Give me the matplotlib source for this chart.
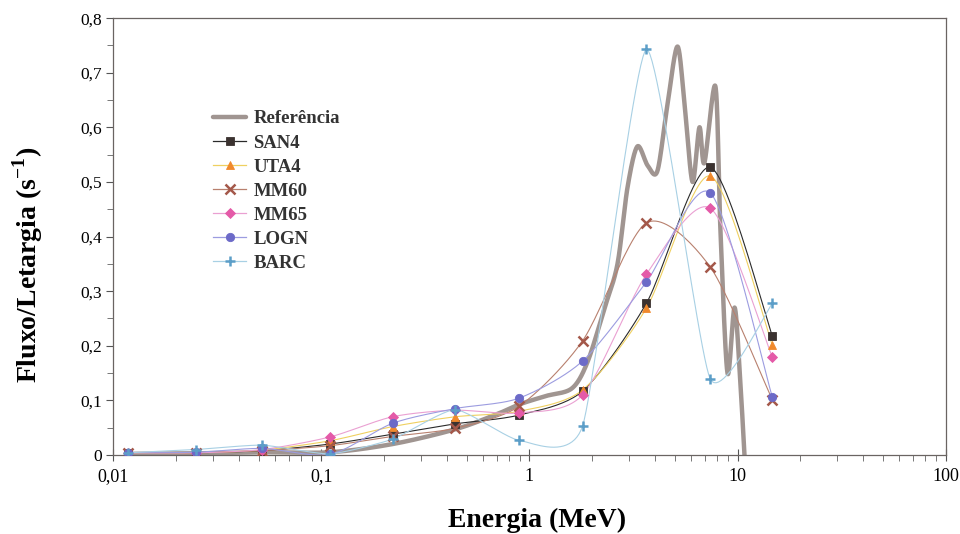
import numpy as np
import matplotlib.pyplot as plt
from matplotlib.ticker import FixedLocator, FuncFormatter, LogLocator, MultipleLocator

plt.rcParams['font.family'] = ['Liberation Serif', 'DejaVu Serif']
plt.rcParams['mathtext.fontset'] = 'custom'
plt.rcParams['mathtext.rm'] = 'Liberation Serif'
plt.rcParams['mathtext.bf'] = 'Liberation Serif:bold'

# energies of the unfolded groups (MeV)
energy = [0.0118, 0.025, 0.052, 0.11, 0.22, 0.44, 0.89, 1.8, 3.65, 7.4, 14.7]

san4 = [0.003, 0.004, 0.008, 0.020, 0.038, 0.057, 0.073, 0.117, 0.278, 0.527, 0.218]
uta4 = [0.003, 0.004, 0.009, 0.026, 0.052, 0.070, 0.080, 0.119, 0.269, 0.511, 0.201]
mm60 = [0.004, 0.004, 0.008, 0.017, 0.034, 0.049, 0.089, 0.209, 0.425, 0.344, 0.101]
mm65 = [0.004, 0.004, 0.010, 0.033, 0.070, 0.082, 0.077, 0.110, 0.331, 0.452, 0.179]
logn = [0.004, 0.005, 0.012, 0.001, 0.058, 0.085, 0.104, 0.172, 0.317, 0.480, 0.106]
barc = [0.004, 0.010, 0.018, 0.002, 0.029, 0.083, 0.027, 0.053, 0.743, 0.139, 0.278]

# reference spectrum
ref_energy = [0.0118, 0.025, 0.052, 0.11, 0.22, 0.44, 0.7, 0.9, 1.2, 1.6, 1.9,
              2.3, 2.65, 2.96, 3.3, 3.7, 4.12, 4.6, 5.15, 5.6, 6.08, 6.56, 6.93,
              7.83, 8.28, 8.95, 9.68, 10.3, 10.8]
ref_flux = [0.002, 0.003, 0.005, 0.005, 0.020, 0.047, 0.075, 0.093, 0.108, 0.122, 0.17,
            0.27, 0.35, 0.49, 0.565, 0.53, 0.52, 0.64, 0.748, 0.63, 0.50, 0.60, 0.535,
            0.675, 0.41, 0.15, 0.27, 0.137, 0.0]

# name, values, marker, marker colour, line colour, spline tension
series = [
    ('SAN4', san4, 's', '#3b3230', '#2a2a2a', 0.8),
    ('UTA4', uta4, '^', '#f0892c', '#efd060', 0.8),
    ('MM60', mm60, 'x', '#a4584a', '#b8806e', 0.8),
    ('MM65', mm65, 'D', '#e45aa8', '#eaa0d2', 0.8),
    ('LOGN', logn, 'o', '#6c6ac8', '#9c9ce0', 0.8),
    ('BARC', barc, '+', '#5c9ec8', '#a8d0e4', 0.55),
]


def smooth(x, y, n=24, tension=0.8):
    # cardinal spline through the points, built in log(x)
    pts = np.column_stack([np.log10(x), y])
    p = np.vstack([pts[0], pts, pts[-1]])
    t = np.linspace(0, 1, n, endpoint=False)[:, None]
    h00 = 2 * t ** 3 - 3 * t ** 2 + 1
    h10 = t ** 3 - 2 * t ** 2 + t
    h01 = -2 * t ** 3 + 3 * t ** 2
    h11 = t ** 3 - t ** 2
    out = []
    for i in range(1, len(p) - 2):
        p0, p1, p2, p3 = p[i - 1], p[i], p[i + 1], p[i + 2]
        m1 = tension * (p2 - p0) / 2
        m2 = tension * (p3 - p1) / 2
        out.append(h00 * p1 + h10 * m1 + h01 * p2 + h11 * m2)
    out.append(pts[-1:])
    out = np.vstack(out)
    return 10 ** out[:, 0], out[:, 1]


fig = plt.figure(figsize=(9.6, 5.34), dpi=100)
ax = fig.add_axes([0.118, 0.148, 0.867, 0.818])

rx, ry = smooth(ref_energy, ref_flux, tension=0.9)
ax.plot(rx, ry, color='#a09591', lw=3.2, solid_capstyle='round', label='Referência', zorder=2)

for name, vals, mk, mcol, lcol, tens in series:
    sx, sy = smooth(energy, vals, tension=tens)
    ax.plot(sx, sy, color=lcol, lw=0.8, zorder=3)
    ms = 7 if mk in ('x', '+') else 6
    if mk == 'D':
        ms = 5.2
    mew = 1.8 if mk in ('x', '+') else 0.6
    ax.plot(energy, vals, ls='none', marker=mk, ms=ms, color=mcol, mew=mew, zorder=4)
    # legend proxy: line with one marker
    ax.plot([], [], color=lcol, lw=0.9, marker=mk, ms=ms, mfc=mcol, mec=mcol, mew=mew, label=name)

ax.set_xscale('log')
ax.set_xlim(0.01, 100)
ax.set_ylim(0, 0.8)

ax.xaxis.set_major_locator(FixedLocator([0.01, 0.1, 1, 10, 100]))
ax.xaxis.set_minor_locator(LogLocator(base=10, subs=np.arange(2, 10)))
ax.xaxis.set_major_formatter(FuncFormatter(lambda v, p: ('%g' % v).replace('.', ',')))
ax.xaxis.set_minor_formatter(FuncFormatter(lambda v, p: ''))
ax.yaxis.set_major_locator(MultipleLocator(0.1))
ax.yaxis.set_minor_locator(MultipleLocator(0.05))
ax.yaxis.set_major_formatter(FuncFormatter(lambda v, p: ('%.1f' % v).replace('.', ',') if v > 0 else '0'))

for s in ax.spines.values():
    s.set_color('#6a6462')
    s.set_linewidth(0.9)
ax.tick_params(axis='x', which='major', direction='inout', length=9, width=0.8,
               color='#555', labelsize=13, pad=5)
ax.tick_params(axis='x', which='minor', direction='out', length=4, width=0.7, color='#777')
ax.tick_params(axis='y', which='major', direction='out', length=5, width=0.8,
               color='#555', labelsize=12.5, pad=3)
ax.tick_params(axis='y', which='minor', direction='out', length=4, width=0.7, color='#777')

ax.set_xlabel('Energia (MeV)', fontsize=20, fontweight='bold')
ax.xaxis.set_label_coords(0.509, -0.12)
ax.set_ylabel('Fluxo/Letargia (s$^{\\mathbf{-1}}$)', fontsize=20, fontweight='bold')
ax.yaxis.set_label_coords(-0.082, 0.435)

leg = ax.legend(loc='upper left', bbox_to_anchor=(0.12, 0.789), frameon=False,
                borderpad=0, borderaxespad=0,
                handlelength=1.75, handletextpad=0.4, labelspacing=0.37, numpoints=1,
                prop={'weight': 'bold', 'size': 13.5})
for txt in leg.get_texts():
    txt.set_color('#333333')

fig.savefig('out.png', dpi=100, facecolor='white')
